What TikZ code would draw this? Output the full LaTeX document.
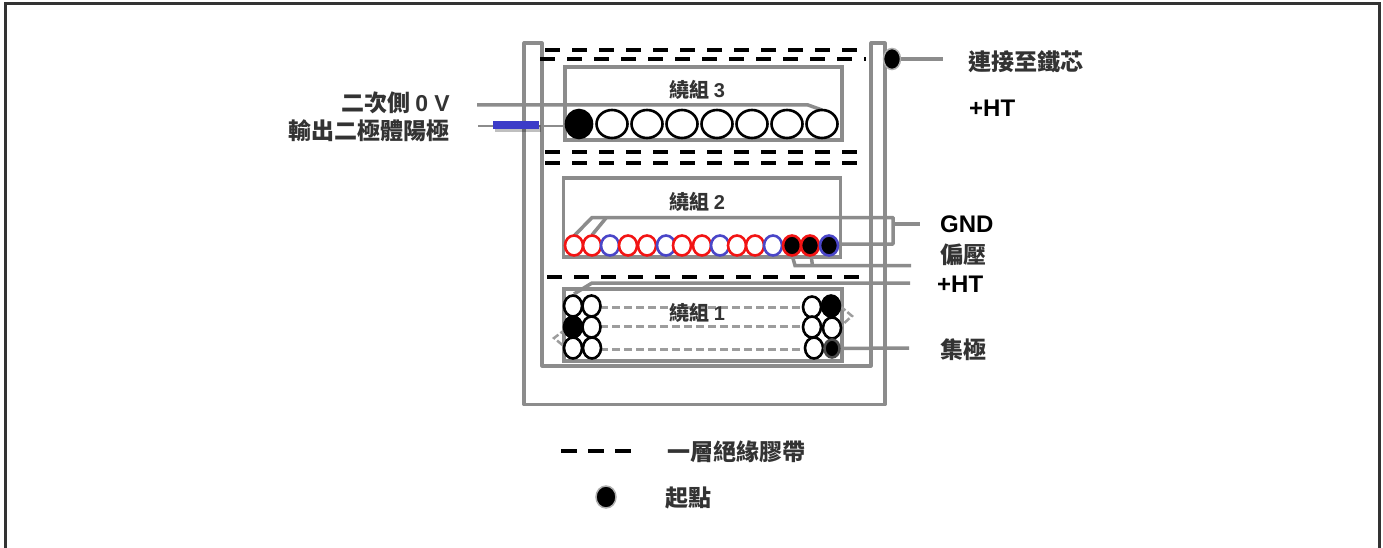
\documentclass[tikz,border=0pt]{standalone}
\usepackage{fontspec}
\setmainfont{Liberation Sans}
\newfontfamily\cjk{Noto Sans CJK TC}
\usetikzlibrary{shapes.geometric}
\definecolor{wire}{HTML}{8C8C8C}
\definecolor{ink}{HTML}{333333}
\definecolor{coilblue}{HTML}{4A46C8}
\definecolor{coilred}{HTML}{F21414}
\definecolor{tabblue}{HTML}{3C3CC8}
\tikzset{
  wireline/.style={draw=wire,line width=3.5pt},
  thinwire/.style={draw=wire,line width=2.8pt},
  boxline/.style={draw=wire,line width=3.2pt,fill=none,outer sep=0pt},
  tape/.style={draw=black,line width=3.8pt,dash pattern=on 15pt off 12pt},
  fineDash/.style={draw=wire!85,line width=3pt,dash pattern=on 8pt off 4pt},
  turn/.style={ellipse,draw=black,line width=2.6pt,fill=white,inner sep=0pt,minimum width=#1},
  turn/.default=19pt,
  big/.style={turn=31pt,minimum height=28pt},
  small/.style={turn=18pt,minimum height=20pt,draw=coilred,line width=2.6pt},
  redT/.style={small},
  blueT/.style={small,draw=coilblue},
  mid/.style={turn=18pt,minimum height=21pt},
  lbl/.style={inner sep=0pt,font=\fontsize{23}{23}\selectfont\bfseries\cjk,text=ink},
  lat/.style={inner sep=0pt,font=\fontsize{24}{24}\selectfont\bfseries,text=black},
  coillabel/.style={inner sep=0pt,font=\fontsize{20}{20}\selectfont\bfseries\cjk,text=ink},
}
\begin{document}
\begin{tikzpicture}[x=1pt,y=-1pt]
\useasboundingbox (0,0) rectangle (1383,548);
\fill[white] (0,0) rectangle (1383,548);
% outer frame
\draw[draw=ink,line width=3pt] (5,549) -- (5,3.5) -- (1379,3.5) -- (1379,549);
% bobbin
\draw[boxline,line join=round] (524,43) -- (542,43) -- (542,366) -- (871,366) -- (871,43) -- (885,43) -- (885,404.5) -- (524,404.5) -- cycle;

% winding boxes
\node[boxline,anchor=north west,minimum width=277pt,minimum height=73pt,inner sep=0pt] (w3) at (565,67) {};
\node[boxline,anchor=north west,minimum width=277pt,minimum height=79pt,inner sep=0pt] (w2) at (563.5,178) {};
\node[boxline,anchor=north west,minimum width=278pt,minimum height=72pt,inner sep=0pt] (w1) at (564,289) {};

% insulation tape
\coordinate (t1a) at (545,50); \coordinate (t1b) at (866,50);
\coordinate (t2a) at (540,59); \coordinate (t2b) at (866,59);
\coordinate (t3a) at (545,152); \coordinate (t3b) at (868,152);
\coordinate (t4a) at (545,163); \coordinate (t4b) at (868,163);
\coordinate (t5a) at (547,277); \coordinate (t5b) at (862,277);
\draw[tape] (t1a) -- (t1b);
\draw[tape] (t2a) -- (t2b);
\draw[tape] (t3a) -- (t3b);
\draw[tape] (t4a) -- (t4b);
\draw[tape] (t5a) -- (t5b);

% winding 3 leads
\coordinate (s0) at (477,105); \coordinate (s0k) at (808,105); \coordinate (s0e) at (822,110);
\draw[wireline] (s0) -- (s0k) -- (s0e);
\coordinate (da) at (478,126);
\draw[thinwire] (da) -- (566,126);
\fill[black,opacity=.25] (495,125) rectangle (541,132);
\node[fill=tabblue,inner sep=0pt,outer sep=0pt,minimum width=46pt,minimum height=7.5pt,anchor=center] (tab) at (516,125) {};

% winding 3 turns
\foreach \n/\x in {1/612,2/647,3/682,4/717,5/752,6/787,7/822}
  \node[big] (c\n) at (\x,124) {};
\node[big,fill=black,minimum width=26pt] (c0) at (579,124) {};

% winding 2 leads
\coordinate (g1) at (574,236); \coordinate (g1k) at (592,217.5);
\coordinate (g2) at (592,235); \coordinate (g2k) at (606,218);
\coordinate (gr) at (893,217.5); \coordinate (grb) at (893,244); \coordinate (gl) at (836,244);
\draw[wireline,line join=round] (g1) -- (g1k) -- (gr) -- (grb) -- (gl);
\draw[wireline] (g2) -- (g2k);
\coordinate (gt) at (920,224); \coordinate (gs) at (893,224);
\draw[wireline] (gs) -- (gt);
\coordinate (b1) at (792,255); \coordinate (b1k) at (795,265.5); \coordinate (be) at (911,265.5);
\coordinate (b2) at (811,255); \coordinate (b2k) at (812.5,265.5);
\draw[wireline] (b1) -- (b1k) -- (be);
\draw[wireline] (b2) -- (b2k);

% winding 2 turns
\foreach \n/\x/\s in {1/574/redT,2/592/redT,3/610/blueT,4/628/redT,5/647/redT,6/666/blueT,7/682/redT,8/702/redT,9/720/blueT,10/737/redT,11/755/redT,12/773/blueT}
  \node[\s] (m\n) at (\x,245.5) {};
\node[redT,fill=black] (m13) at (792,245.5) {};
\node[redT,fill=black] (m14) at (810,245.5) {};
\node[blueT,fill=black] (m15) at (829,245.5) {};

% winding 1 dashed lines
\coordinate (d1a) at (600,307); \coordinate (d1b) at (804,307);
\coordinate (d2a) at (600,326); \coordinate (d2b) at (804,326);
\coordinate (d3a) at (600,349); \coordinate (d3b) at (804,349);
\draw[fineDash] (d1a) -- (d1b);
\draw[fineDash] (d2a) -- (d2b);
\draw[fineDash] (d3a) -- (d3b);
\coordinate (la) at (566,329); \coordinate (lb) at (554,338); \coordinate (lc) at (566,348);
\coordinate (ra) at (840,306); \coordinate (rb) at (852,316); \coordinate (rc) at (841,326);
\draw[fineDash,line width=2.5pt,dash pattern=on 7pt off 2.5pt] (la) -- (lb) -- (lc);
\draw[fineDash,line width=2.5pt,dash pattern=on 7pt off 2.5pt] (ra) -- (rb) -- (rc);

% +HT lead
\coordinate (h1) at (574,294); \coordinate (h1k) at (592,283); \coordinate (he) at (910,283);
\draw[wireline] (h1) -- (h1k) -- (he);

% winding 1 turns
\foreach \n/\x/\y in {1/573/306,2/591.5/306,3/591.5/327,4/573/348,5/592/348,6/812/307,7/812/327,8/832/328,9/814/348}
  \node[mid] (k\n) at (\x,\y) {};
\node[mid,fill=black] (k10) at (573,327) {};
\node[mid,fill=black] (k11) at (831,306) {};
\node[mid,fill=black,minimum width=15pt,minimum height=18pt,draw=black!70] (k12) at (832,348.5) {};
\coordinate (ce) at (909,348);
\draw[wireline] (k12) -- (ce);

% core connection
\node[ellipse,fill=black,draw=wire!70,line width=1.5pt,inner sep=0pt,minimum width=17pt,minimum height=21pt] (core) at (892,59) {};
\coordinate (ct) at (943,59);
\draw[wireline] (core) -- (ct);

% legend
\coordinate (lega) at (561,451); \coordinate (legb) at (632,451);
\draw[draw=black,line width=3.6pt,dash pattern=on 16pt off 11pt] (lega) -- (legb);
\node[ellipse,fill=black,draw=wire!70,line width=1.5pt,inner sep=0pt,minimum width=20pt,minimum height=22pt] (legdot) at (606,497) {};

% labels
\node[coillabel,anchor=base west] (lw3) at (669,98) {繞組 {\fontspec{Liberation Sans}\bfseries 3}};
\node[coillabel,anchor=base west] (lw2) at (669,209) {繞組 {\fontspec{Liberation Sans}\bfseries 2}};
\node[coillabel,anchor=base west] (lw1) at (669,320) {繞組 {\fontspec{Liberation Sans}\bfseries 1}};
\node[lbl,anchor=base east] (l0v) at (450,112) {二次側 {\fontspec{Liberation Sans}\bfseries 0 V}};
\node[lbl,anchor=base east] (lda) at (450,140) {輸出二極體陽極};
\node[lbl,anchor=base west] (lcore) at (968,71) {連接至鐵芯};
\node[lat,anchor=base west] (lht) at (969,117) {+HT};
\node[lat,anchor=base west] (lgnd) at (940,232) {GND};
\node[lbl,anchor=base west] (lbias) at (940,263) {偏壓};
\node[lat,anchor=base west] (lht2) at (937,292) {+HT};
\node[lbl,anchor=base west] (lcol) at (940,358) {集極};
\node[lbl,anchor=base west] (ltape) at (667,460) {一層絕緣膠帶};
\node[lbl,anchor=base west] (lstart) at (665,506) {起點};
\end{tikzpicture}
\end{document}
